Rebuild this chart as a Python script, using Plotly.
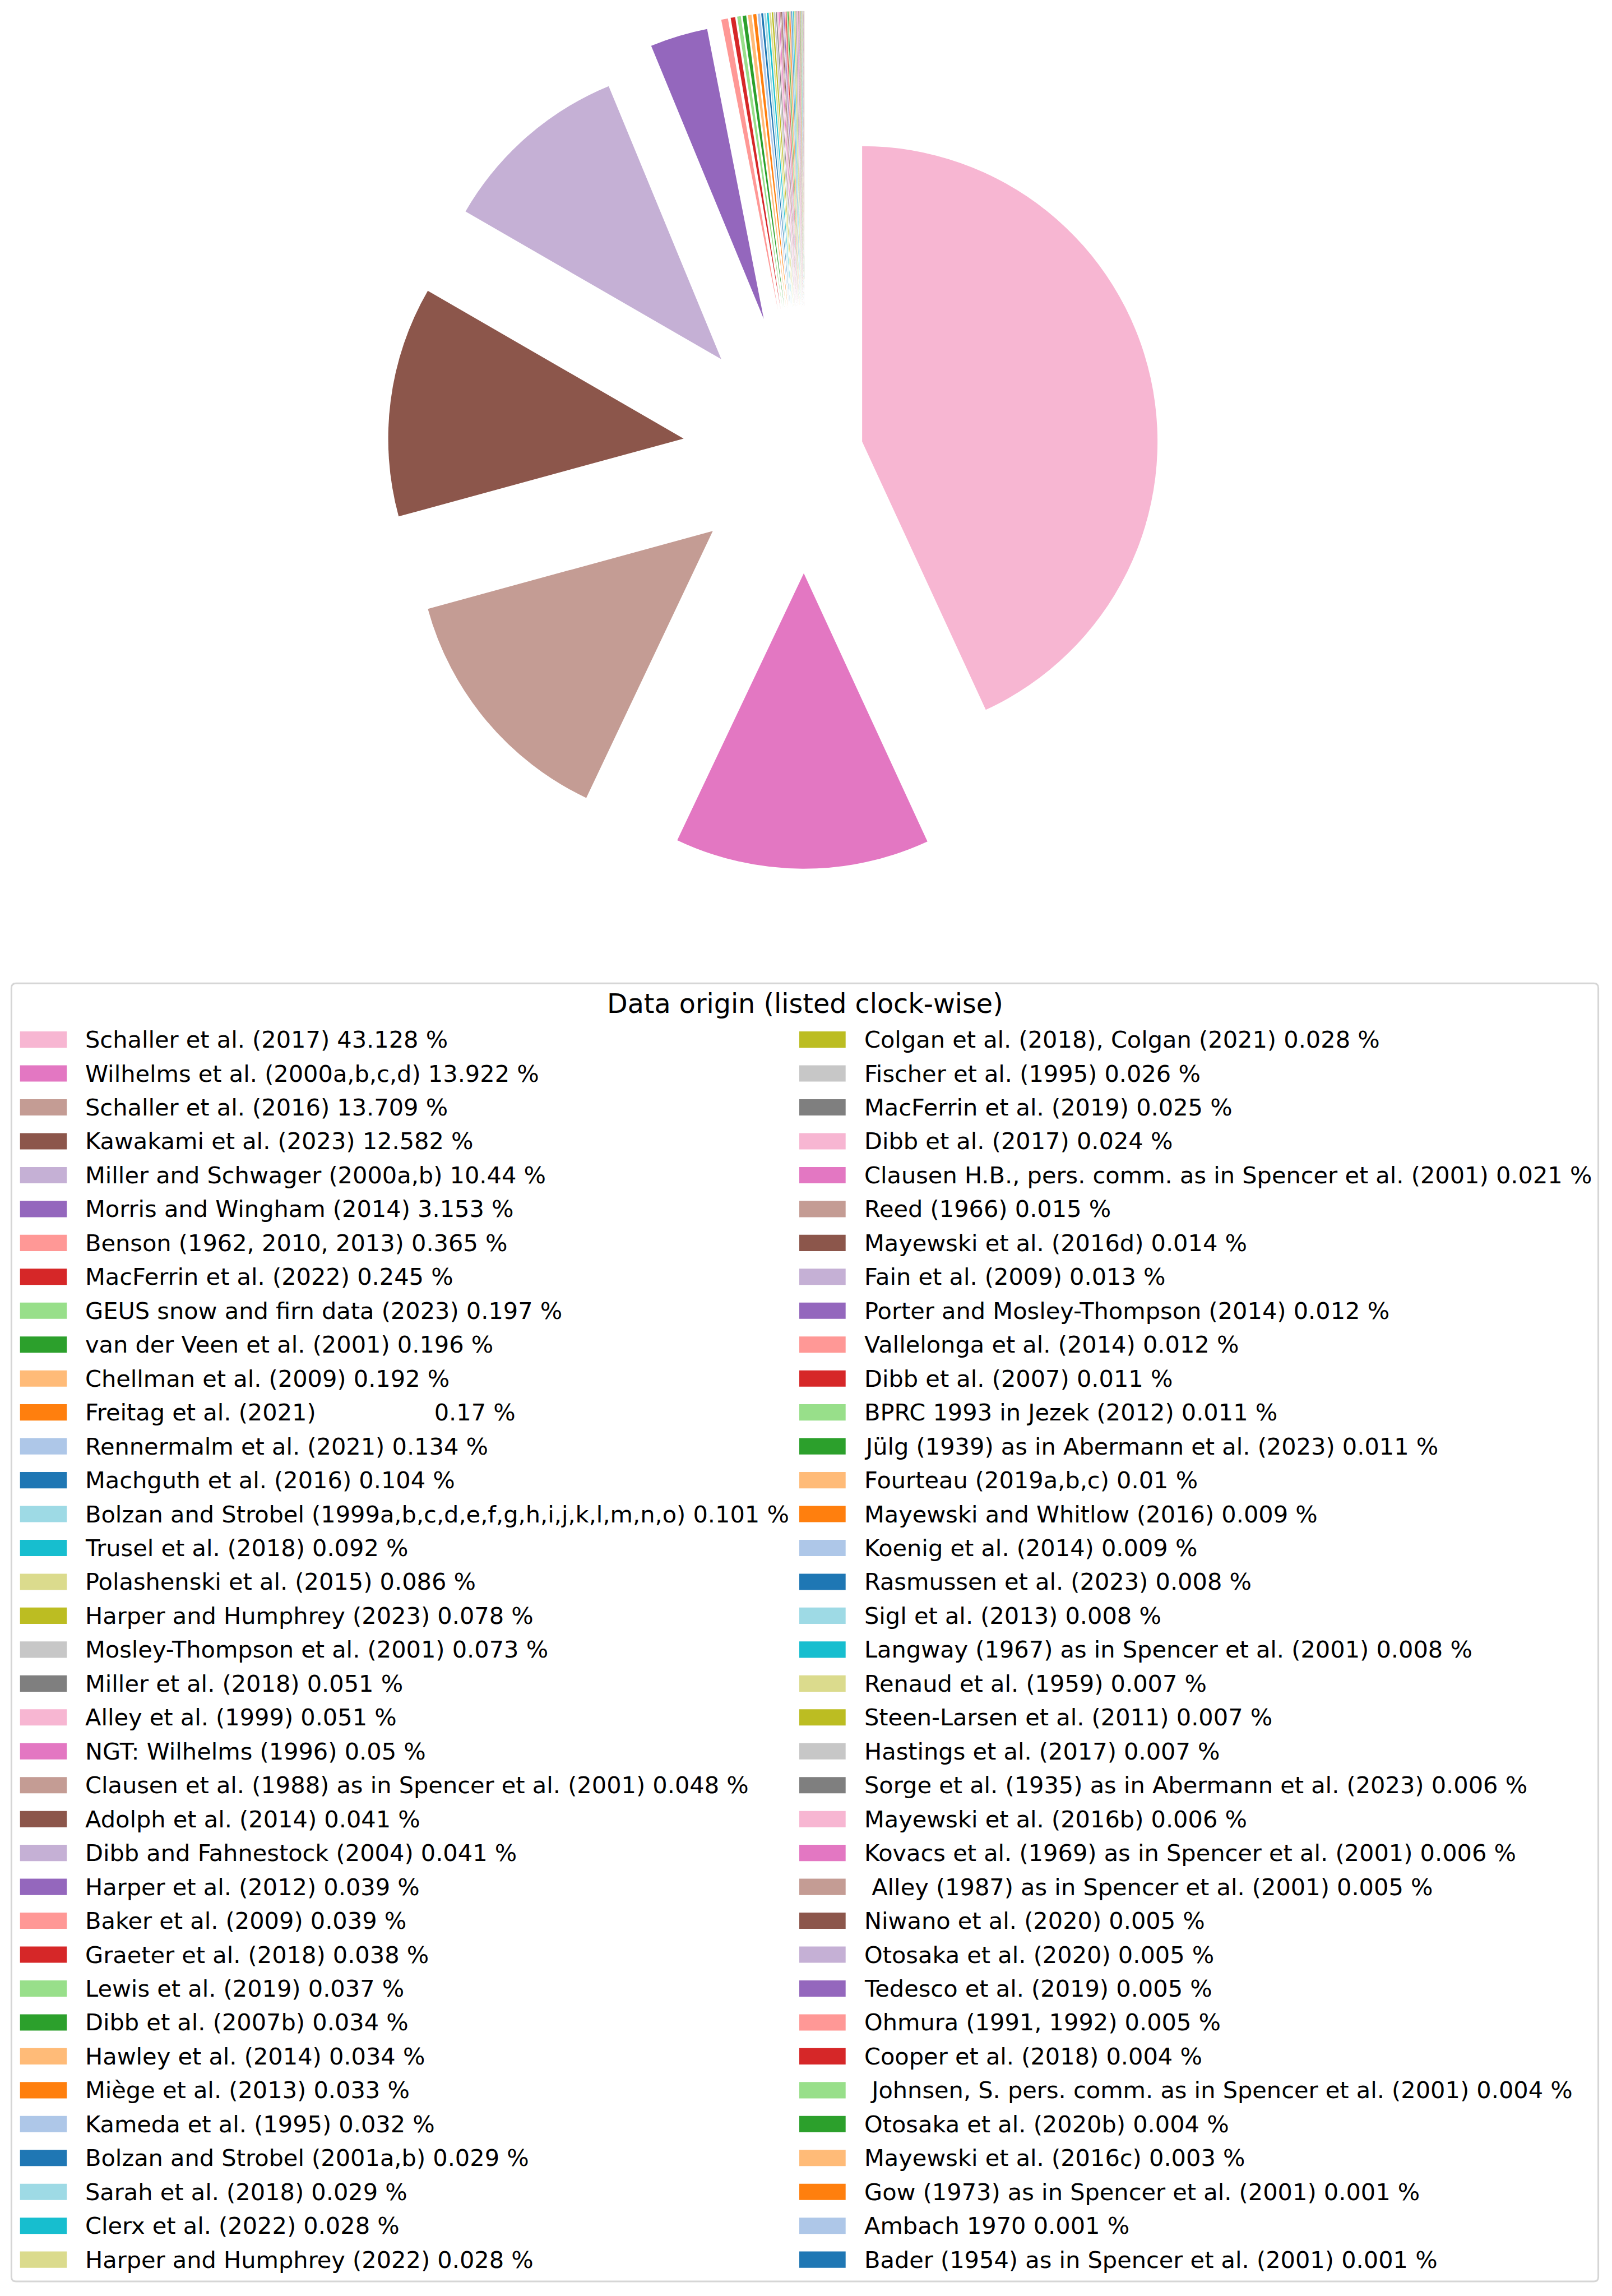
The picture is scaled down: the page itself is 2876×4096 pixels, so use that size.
import plotly.graph_objects as go

# ---------------- data ----------------
names = [
    "Schaller et al. (2017)",
    "Wilhelms et al. (2000a,b,c,d)",
    "Schaller et al. (2016)",
    "Kawakami et al. (2023)",
    "Miller and Schwager (2000a,b)",
    "Morris and Wingham (2014)",
    "Benson (1962, 2010, 2013)",
    "MacFerrin et al. (2022)",
    "GEUS snow and firn data (2023)",
    "van der Veen et al. (2001)",
    "Chellman et al. (2009)",
    "Freitag et al. (2021)               ",
    "Rennermalm et al. (2021)",
    "Machguth et al. (2016)",
    "Bolzan and Strobel (1999a,b,c,d,e,f,g,h,i,j,k,l,m,n,o)",
    "Trusel et al. (2018)",
    "Polashenski et al. (2015)",
    "Harper and Humphrey (2023)",
    "Mosley-Thompson et al. (2001)",
    "Miller et al. (2018)",
    "Alley et al. (1999)",
    "NGT: Wilhelms (1996)",
    "Clausen et al. (1988) as in Spencer et al. (2001)",
    "Adolph et al. (2014)",
    "Dibb and Fahnestock (2004)",
    "Harper et al. (2012)",
    "Baker et al. (2009)",
    "Graeter et al. (2018)",
    "Lewis et al. (2019)",
    "Dibb et al. (2007b)",
    "Hawley et al. (2014)",
    "Miège et al. (2013)",
    "Kameda et al. (1995)",
    "Bolzan and Strobel (2001a,b)",
    "Sarah et al. (2018)",
    "Clerx et al. (2022)",
    "Harper and Humphrey (2022)",
    "Colgan et al. (2018), Colgan (2021)",
    "Fischer et al. (1995)",
    "MacFerrin et al. (2019)",
    "Dibb et al. (2017)",
    "Clausen H.B., pers. comm. as in Spencer et al. (2001)",
    "Reed (1966)",
    "Mayewski et al. (2016d)",
    "Fain et al. (2009)",
    "Porter and Mosley-Thompson (2014)",
    "Vallelonga et al. (2014)",
    "Dibb et al. (2007)",
    "BPRC 1993 in Jezek (2012)",
    "Jülg (1939) as in Abermann et al. (2023)",
    "Fourteau (2019a,b,c)",
    "Mayewski and Whitlow (2016)",
    "Koenig et al. (2014)",
    "Rasmussen et al. (2023)",
    "Sigl et al. (2013)",
    "Langway (1967) as in Spencer et al. (2001)",
    "Renaud et al. (1959)",
    "Steen-Larsen et al. (2011)",
    "Hastings et al. (2017)",
    "Sorge et al. (1935) as in Abermann et al. (2023)",
    "Mayewski et al. (2016b)",
    "Kovacs et al. (1969) as in Spencer et al. (2001)",
    " Alley (1987) as in Spencer et al. (2001)",
    "Niwano et al. (2020)",
    "Otosaka et al. (2020)",
    "Tedesco et al. (2019)",
    "Ohmura (1991, 1992)",
    "Cooper et al. (2018)",
    " Johnsen, S. pers. comm. as in Spencer et al. (2001)",
    "Otosaka et al. (2020b)",
    "Mayewski et al. (2016c)",
    "Gow (1973) as in Spencer et al. (2001)",
    "Ambach 1970",
    "Bader (1954) as in Spencer et al. (2001)",
]

percent = [
    43.128, 13.922, 13.709, 12.582, 10.44, 3.153, 0.365, 0.245, 0.197, 0.196,
    0.192, 0.17, 0.134, 0.104, 0.101, 0.092, 0.086, 0.078, 0.073, 0.051,
    0.051, 0.05, 0.048, 0.041, 0.041, 0.039, 0.039, 0.038, 0.037, 0.034,
    0.034, 0.033, 0.032, 0.029, 0.029, 0.028, 0.028,
    0.028, 0.026, 0.025, 0.024, 0.021, 0.015, 0.014, 0.013, 0.012, 0.012,
    0.011, 0.011, 0.011, 0.01, 0.009, 0.009, 0.008, 0.008, 0.008, 0.007,
    0.007, 0.007, 0.006, 0.006, 0.006, 0.005, 0.005, 0.005, 0.005, 0.005,
    0.004, 0.004, 0.004, 0.003, 0.001, 0.001, 0.001,
]

legend_title = "Data origin (listed clock-wise)"

# ---------------- style ----------------
W, H = 2876, 4096
palette = ["#f7b6d2", "#e377c2", "#c49c94", "#8c564b", "#c5b0d5", "#9467bd",
           "#ff9896", "#d62728", "#98df8a", "#2ca02c", "#ffbb78", "#ff7f0e",
           "#aec7e8", "#1f77b4", "#9edae5", "#17becf", "#dbdb8d", "#bcbd22",
           "#c7c7c7", "#7f7f7f"]
colors = [palette[i % len(palette)] for i in range(len(percent))]
vmax = max(percent)
pulls = [0.2 + 0.3 * (1 - v / vmax) for v in percent]
labels = [f"{n} {v} %" for n, v in zip(names, percent)]

FONT = "DejaVu Sans"
fs_item = 41.5
fs_title = 47.6

# pie placement (pixels)
cx, cy, r = 1435.2, 810.3, 527.0
half = r * (1 + max(pulls))


def px(x):
    return x / W


def py(y):
    return 1 - y / H


fig = go.Figure()
fig.add_trace(go.Pie(
    labels=labels,
    values=percent,
    sort=False,
    direction="clockwise",
    rotation=0,
    pull=pulls,
    marker=dict(colors=colors, line=dict(width=0)),
    textinfo="none",
    hoverinfo="label",
    showlegend=False,
    domain=dict(x=[px(cx - half), px(cx + half)],
                y=[py(cy + half), py(cy - half)]),
))

# ---------------- legend (drawn) ----------------
shapes = []
annotations = []

# frame with rounded corners
L, T, R, B = 20.4, 1754.3, 2851.6, 4070.0
rad = 8.2
rx, ry = rad / W, rad / H
path = (f"M {px(L)+rx},{py(T)} L {px(R)-rx},{py(T)} Q {px(R)},{py(T)} {px(R)},{py(T)-ry} "
        f"L {px(R)},{py(B)+ry} Q {px(R)},{py(B)} {px(R)-rx},{py(B)} "
        f"L {px(L)+rx},{py(B)} Q {px(L)},{py(B)} {px(L)},{py(B)+ry} "
        f"L {px(L)},{py(T)-ry} Q {px(L)},{py(T)} {px(L)+rx},{py(T)} Z")
shapes.append(dict(type="path", xref="paper", yref="paper", path=path,
                   line=dict(color="#d6d6d6", width=3), fillcolor="white", layer="below"))

annotations.append(dict(text=legend_title, xref="paper", yref="paper",
                        x=px(1436), y=py(1790.5), xanchor="center", yanchor="middle",
                        showarrow=False, borderpad=0,
                        font=dict(family=FONT, size=fs_title, color="black")))

nrows = 37
row0, pitch = 1854.6, 60.46
hh = 29.1
col_handle = [(35.7, 119.2), (1426.0, 1508.7)]
col_text = [150.8, 1540.8]

for i, lab in enumerate(labels):
    col, row = divmod(i, nrows)
    yc = row0 + row * pitch
    x0, x1 = col_handle[col]
    shapes.append(dict(type="rect", xref="paper", yref="paper",
                       x0=px(x0), x1=px(x1), y0=py(yc + hh / 2), y1=py(yc - hh / 2),
                       fillcolor=colors[i], line=dict(width=0)))
    annotations.append(dict(text=lab.replace(" ", "\u00a0"), xref="paper", yref="paper",
                            x=px(col_text[col]), y=py(yc), xanchor="left", yanchor="middle",
                            showarrow=False, borderpad=0, align="left",
                            font=dict(family=FONT, size=fs_item, color="black")))

fig.update_layout(
    width=W, height=H,
    margin=dict(l=0, r=0, t=0, b=0),
    paper_bgcolor="white", plot_bgcolor="white",
    shapes=shapes, annotations=annotations,
    showlegend=False,
)

fig.write_html("out.html", config={"displayModeBar": False})
